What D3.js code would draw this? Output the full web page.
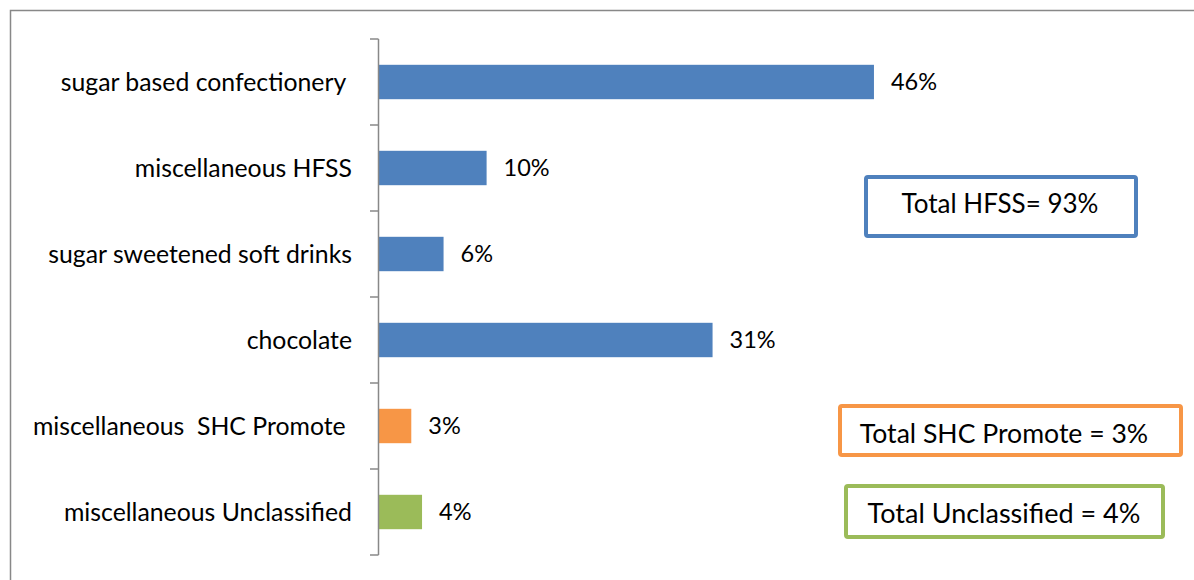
<!DOCTYPE html>
<html>
<head>
<meta charset="utf-8">
<script src="https://cdn.jsdelivr.net/npm/d3@7"></script>
<style>
  html, body { margin: 0; padding: 0; background: #fff; }
  svg { display: block; }
  text { font-family: Lato, "Open Sans", sans-serif; fill: #000; white-space: pre; }
</style>
</head>
<body>
<svg id="chart" width="1194" height="580"></svg>
<script>
const categories = [
  "sugar based confectionery ",
  "miscellaneous HFSS",
  "sugar sweetened soft drinks",
  "chocolate",
  "miscellaneous  SHC Promote ",
  "miscellaneous Unclassified"
];
const values = [0.46, 0.10, 0.06, 0.31, 0.03, 0.04];
const groups = ["HFSS", "HFSS", "HFSS", "HFSS", "SHC", "Unclassified"];
const groupColors = { HFSS: "#4F81BD", SHC: "#F79646", Unclassified: "#9BBB59" };
const totalLabels = ["Total HFSS= 93%", "Total SHC Promote = 3%", "Total Unclassified = 4%"];
const totalGroups = ["HFSS", "SHC", "Unclassified"];

const svg = d3.select("#chart");

// outer chart border
svg.append("rect")
  .attr("x", 10.5).attr("y", 10.5)
  .attr("width", 1300).attr("height", 700)
  .attr("fill", "none").attr("stroke", "#888").attr("stroke-width", 1.5);

const x = d3.scaleLinear().domain([0, 0.5]).range([379, 917]);
const y = d3.scaleBand().domain(categories).range([39, 555]).paddingInner(0.6).paddingOuter(0.3);

// bars
svg.selectAll("rect.bar").data(categories).join("rect")
  .attr("class", "bar")
  .attr("x", x(0))
  .attr("y", d => y(d))
  .attr("width", (d, i) => x(values[i]) - x(0))
  .attr("height", y.bandwidth())
  .attr("fill", (d, i) => groupColors[groups[i]]);

// axis line and ticks (category boundaries)
const bounds = d3.range(categories.length + 1).map(i => 39 + i * y.step());
svg.append("line")
  .attr("x1", 378.5).attr("x2", 378.5)
  .attr("y1", bounds[0]).attr("y2", bounds[bounds.length - 1])
  .attr("stroke", "#888").attr("stroke-width", 1.5);
svg.selectAll("line.tick").data(bounds).join("line")
  .attr("class", "tick")
  .attr("x1", 370).attr("x2", 378.5)
  .attr("y1", d => d).attr("y2", d => d)
  .attr("stroke", "#888").attr("stroke-width", 1.5);

// category labels
svg.selectAll("text.cat").data(categories).join("text")
  .attr("class", "cat")
  .attr("x", 352)
  .attr("y", d => y(d) + y.bandwidth() / 2)
  .attr("dy", "0.35em")
  .attr("text-anchor", "end")
  .attr("font-size", 24.8)
  .text(d => d);

// value labels
const fmt = d3.format(".0%");
svg.selectAll("text.val").data(categories).join("text")
  .attr("class", "val")
  .attr("x", (d, i) => x(values[i]) + 17)
  .attr("y", d => y(d) + y.bandwidth() / 2)
  .attr("dy", "0.35em")
  .attr("font-size", 23.5)
  .text((d, i) => fmt(values[i]));

// total annotation boxes
const boxes = [
  { x: 866, y: 177, w: 270, h: 59, fs: 26, tx: 1000, ty: 213 },
  { x: 840, y: 406, w: 341, h: 49, fs: 26.6, tx: 1004, ty: 443 },
  { x: 846, y: 486, w: 317, h: 51, fs: 27, tx: 1004, ty: 523 }
];
const ann = svg.selectAll("g.ann").data(totalLabels).join("g").attr("class", "ann");
ann.append("rect")
  .attr("x", (d, i) => boxes[i].x).attr("y", (d, i) => boxes[i].y)
  .attr("width", (d, i) => boxes[i].w).attr("height", (d, i) => boxes[i].h)
  .attr("rx", 2)
  .attr("fill", "#fff")
  .attr("stroke", (d, i) => groupColors[totalGroups[i]])
  .attr("stroke-width", 4);
ann.append("text")
  .attr("x", (d, i) => boxes[i].tx)
  .attr("y", (d, i) => boxes[i].ty)
  .attr("text-anchor", "middle")
  .attr("font-size", (d, i) => boxes[i].fs)
  .text(d => d);
</script>
</body>
</html>
